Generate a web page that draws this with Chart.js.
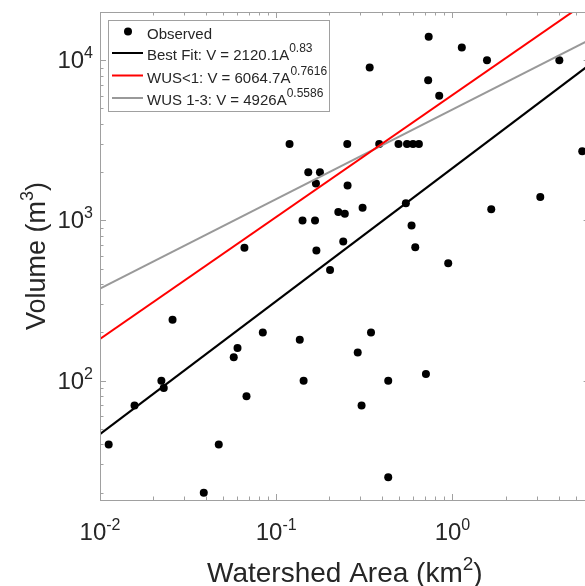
<!DOCTYPE html>
<html><head><meta charset="utf-8">
<script src="https://cdn.jsdelivr.net/npm/chart.js@4.4.1/dist/chart.umd.min.js"></script>
<style>
html,body{margin:0;padding:0;background:#fff;overflow:hidden}
#wrap{width:585px;height:586px;overflow:hidden;position:relative;background:#fff}
canvas{display:block}
</style></head>
<body><div id="wrap"><canvas id="c" width="600" height="586" style="width:600px;height:586px"></canvas></div>
<script>
// ---- data ----
const obsArea = [0.0112,0.0157,0.0223,0.0230,0.0258,0.0388,0.0472,0.0574,0.0603,0.0678,0.0839,0.066,0.119,0.136,0.143,0.141,0.152,0.166,0.168,0.169,0.177,0.202,0.225,0.240,0.245,0.253,0.254,0.290,0.305,0.309,0.339,0.345,0.384,0.432,0.432,0.494,0.544,0.552,0.586,0.597,0.615,0.645,0.707,0.728,0.733,0.841,0.946,1.13,1.57,1.66,3.15,4.04,5.45];
const obsVolume = [40,70,100,90,240,20,40,140,160,80,200,675,3000,180,100,1000,2000,1000,1700,650,2000,490,1130,740,1100,3000,1650,150,70,1200,9000,200,3000,100,25,3000,1280,3000,930,3000,680,3000,110,7500,14000,6000,540,12000,10000,1175,1400,10000,2700];
const fitArea = [0.01, 10];
const bestFitVolume = [46.4, 14334];
const wusLt1Volume = [181.9, 35030];
const wus13Volume = [376, 17828];
const legendBase = ['Observed','Best Fit: V = 2120.1A','WUS<1: V = 6064.7A','WUS 1-3: V = 4926A'];
const legendExp = ['','0.83','0.7616','0.5586'];
const xTickValues = [0.01, 0.1, 1];
const xTickExp = ['-2','-1','0'];
const yTickValues = [100, 1000, 10000];
const yTickExp = ['2','3','4'];
const xTitle = [['Watershed Area (km',false],['2',true],[')',false]];
const yTitle = [['Volume (m',false],['3',true],[')',false]];

const FONT = '"Liberation Sans", Arial, Helvetica, sans-serif';
const TXT = '#262626';
const AX = '#a0a0a0';

function rich(ctx, parts, x, y, align, size, supSize, raise){
  let widths = parts.map(p=>{ctx.font=(p[1]?supSize:size)+'px '+FONT;return ctx.measureText(p[0]).width;});
  const total = widths.reduce((a,b)=>a+b,0);
  let x0 = align==='center'? x-total/2 : align==='right'? x-total : x;
  ctx.textAlign='left'; ctx.textBaseline='alphabetic';
  parts.forEach((p,i)=>{
    ctx.font=(p[1]?supSize:size)+'px '+FONT;
    ctx.fillText(p[0], x0, p[1]? y-raise : y);
    x0 += widths[i];
  });
}

const decor = {
  id:'decor',
  afterDraw(chart){
    const ctx = chart.ctx, a = chart.chartArea;
    const xs = chart.scales.x, ys = chart.scales.y;
    ctx.save();
    // ticks
    ctx.strokeStyle = AX; ctx.lineWidth = 1;
    ctx.beginPath();
    for (let e=-2; e<=0; e++){
      for (let m=1; m<=9; m++){
        const v = m*Math.pow(10,e);
        if (v>xs.max) continue;
        const px = Math.round(xs.getPixelForValue(v))+0.5;
        const L = m===1?6:3.5;
        ctx.moveTo(px,a.bottom); ctx.lineTo(px,a.bottom-L);
        ctx.moveTo(px,a.top); ctx.lineTo(px,a.top+L);
      }
    }
    for (let e=1; e<=4; e++){
      for (let m=1; m<=9; m++){
        const v = m*Math.pow(10,e);
        if (v<ys.min || v>ys.max) continue;
        const py = Math.round(ys.getPixelForValue(v))+0.5;
        const L = m===1?6:3.5;
        ctx.moveTo(a.left,py); ctx.lineTo(a.left+L,py);
        ctx.moveTo(a.right,py); ctx.lineTo(a.right-L,py);
      }
    }
    ctx.stroke();
    ctx.strokeRect(Math.round(a.left)+0.5, Math.round(a.top)+0.5, Math.round(a.right-a.left), Math.round(a.bottom-a.top));
    // tick labels
    ctx.fillStyle = TXT;
    xTickValues.forEach((v,i)=>{
      rich(ctx, [['10',false],[xTickExp[i],true]], xs.getPixelForValue(v), 540, 'center', 24, 16, 10);
    });
    yTickValues.forEach((v,i)=>{
      rich(ctx, [['10',false],[yTickExp[i],true]], 93, ys.getPixelForValue(v)+8, 'right', 24, 16, 10);
    });
    // axis titles
    rich(ctx, xTitle, (a.left+a.right)/2, 582, 'center', 28, 19, 12);
    ctx.save();
    ctx.translate(45, (a.top+a.bottom)/2);
    ctx.rotate(-Math.PI/2);
    rich(ctx, yTitle, 0, 0, 'center', 27, 18, 12);
    ctx.restore();
    // legend
    ctx.fillStyle = '#fff';
    ctx.fillRect(108.5, 20.5, 221, 91);
    ctx.strokeStyle = AX; ctx.lineWidth = 1;
    ctx.strokeRect(108.5, 20.5, 221, 91);
    const rowsY = [31.5, 53, 75.5, 98];
    const cols = ['#000','#000','#ff0000','#999999'];
    rowsY.forEach((yy,i)=>{
      if (i===0){
        ctx.fillStyle='#000'; ctx.beginPath(); ctx.arc(128,yy,4,0,Math.PI*2); ctx.fill();
      } else {
        ctx.strokeStyle=cols[i]; ctx.lineWidth=2; ctx.beginPath(); ctx.moveTo(112,yy); ctx.lineTo(143,yy); ctx.stroke();
      }
      ctx.fillStyle = TXT;
      const parts = [[legendBase[i],false]];
      if (legendExp[i]) parts.push([legendExp[i],true]);
      rich(ctx, parts, 147, yy+7, 'left', 15, 12, 8);
    });
    ctx.restore();
  }
};

const pts = obsArea.map((x,i)=>({x:x, y:obsVolume[i]}));
const line = (ys)=>fitArea.map((x,i)=>({x:x, y:ys[i]}));

new Chart(document.getElementById('c'), {
  type:'scatter',
  data:{datasets:[
    {label:legendBase[0], data:pts, backgroundColor:'#000', borderColor:'#000', pointRadius:4, borderWidth:0, order:2},
    {label:legendBase[1]+legendExp[1], data:line(bestFitVolume), showLine:true, borderColor:'#000', borderWidth:2, pointRadius:0, order:1},
    {label:legendBase[2]+legendExp[2], data:line(wusLt1Volume), showLine:true, borderColor:'#ff0000', borderWidth:2, pointRadius:0, order:1},
    {label:legendBase[3]+legendExp[3], data:line(wus13Volume), showLine:true, borderColor:'#999999', borderWidth:2, pointRadius:0, order:1}
  ]},
  options:{
    responsive:false, animation:false, devicePixelRatio:1,
    layout:{padding:{left:100, right:10.4, top:12, bottom:86}},
    plugins:{legend:{display:false}, tooltip:{enabled:false}},
    scales:{
      x:{type:'logarithmic', min:0.01, max:6, display:false},
      y:{type:'logarithmic', min:18, max:20000, display:false}
    }
  },
  plugins:[decor]
});
</script>
</body></html>
